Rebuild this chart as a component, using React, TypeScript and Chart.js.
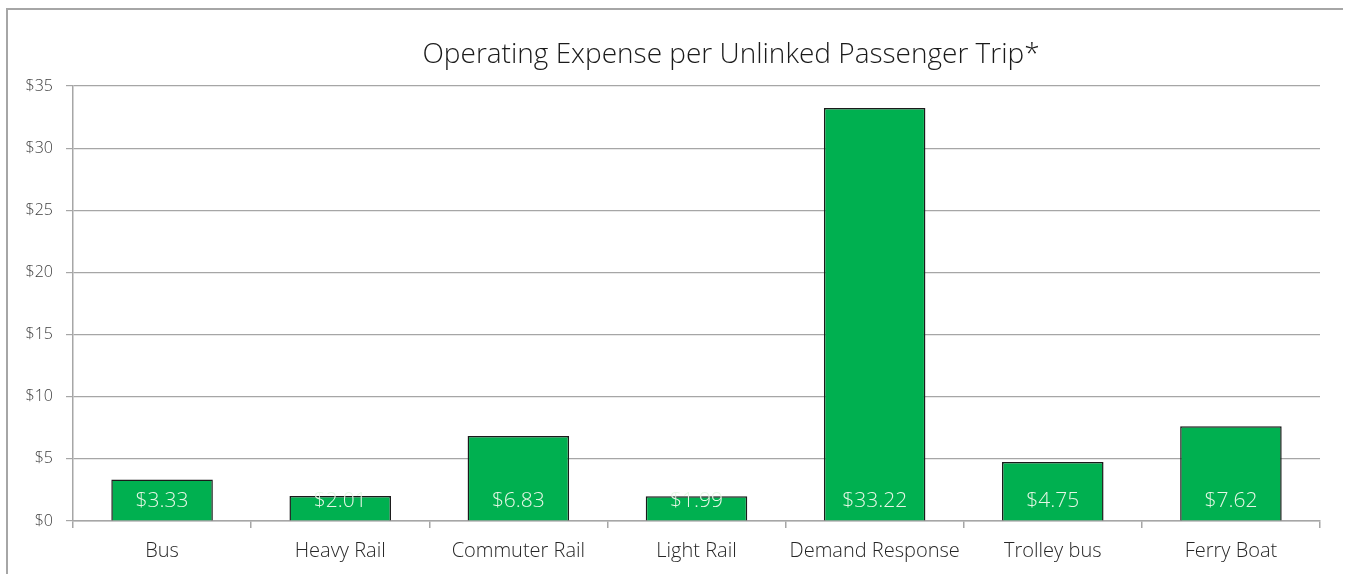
import React, { useEffect, useRef } from "react";
import { Chart, registerables } from "chart.js";

Chart.register(...registerables);

const categories = ["Bus", "Heavy Rail", "Commuter Rail", "Light Rail", "Demand Response", "Trolley bus", "Ferry Boat"];
const expensePerTrip = [3.33, 2.01, 6.83, 1.99, 33.22, 4.75, 7.62];
const yTicks = [0, 5, 10, 15, 20, 25, 30, 35];
const titleText = "Operating Expense per Unlinked Passenger Trip*";

const FONT = "'Open Sans', 'Noto Sans', sans-serif";

const overlayPlugin = {
  id: "overlay",
  beforeDraw(chart: any) {
    const ctx = chart.ctx;
    ctx.save();
    ctx.fillStyle = "#ffffff";
    ctx.fillRect(0, 0, chart.width, chart.height);
    ctx.strokeStyle = "#a6a6a6";
    ctx.lineWidth = 2;
    ctx.beginPath();
    ctx.moveTo(7, chart.height + 5);
    ctx.lineTo(7, 9);
    ctx.lineTo(chart.width - 2, 9);
    ctx.stroke();
    ctx.restore();
  },
  afterDatasetsDraw(chart: any) {
    const ctx = chart.ctx;
    const area = chart.chartArea;
    const meta = chart.getDatasetMeta(0);
    ctx.save();
    ctx.fillStyle = "#e6f7e6";
    ctx.font = `300 21px ${FONT}`;
    ctx.textAlign = "center";
    ctx.textBaseline = "alphabetic";
    meta.data.forEach((bar: any, i: number) => {
      const v = chart.data.datasets[0].data[i] as number;
      ctx.fillText("$" + v.toFixed(2), bar.x, area.bottom - 14);
    });
    ctx.restore();
  },
  afterDraw(chart: any) {
    const ctx = chart.ctx;
    ctx.save();
    ctx.fillStyle = "#1a1a1a";
    ctx.font = `300 28px ${FONT}`;
    ctx.textAlign = "center";
    ctx.textBaseline = "middle";
    ctx.fillText(titleText, 731, 55);
    ctx.restore();
  },
};

export default function App() {
  const ref = useRef<HTMLCanvasElement>(null);
  useEffect(() => {
    if (!ref.current) return;
    const chart = new Chart(ref.current, {
      type: "bar",
      data: {
        labels: categories,
        datasets: [
          {
            data: expensePerTrip,
            backgroundColor: "#00b050",
            borderColor: "#1a1a1a",
            borderWidth: 1.5,
            barPercentage: 0.57,
            categoryPercentage: 1,
          },
        ],
      },
      options: {
        animation: false,
        responsive: false,
        devicePixelRatio: 1,
        layout: { padding: { left: 0, right: 25, top: 86, bottom: 0 } },
        plugins: {
          legend: { display: false },
          title: { display: false },
          tooltip: { enabled: false },
        },
        scales: {
          x: {
            afterFit(scale: any) {
              scale.height = 53;
            },
            grid: {
              offset: true,
              drawOnChartArea: false,
              drawTicks: true,
              tickLength: 7,
              color: "#a6a6a6",
              lineWidth: 1.5,
            },
            border: { color: "#a6a6a6", width: 1.5 },
            ticks: {
              color: "#262626",
              font: { family: FONT, size: 20, weight: "300" as any },
              padding: 11,
              maxRotation: 0,
              autoSkip: false,
            },
          },
          y: {
            min: 0,
            max: 35,
            afterFit(scale: any) {
              scale.width = 73;
            },
            afterBuildTicks(scale: any) {
              scale.ticks = yTicks.map((v) => ({ value: v }));
            },
            grid: {
              color: "#a6a6a6",
              lineWidth: 1.2,
              drawTicks: true,
              tickLength: 7,
            },
            border: { color: "#a6a6a6", width: 1.5 },
            ticks: {
              color: "#404040",
              font: { family: FONT, size: 16, weight: "300" as any },
              padding: 13,
              callback: (v: any) => "$" + v,
            },
          },
        },
      },
      plugins: [overlayPlugin],
    });
    return () => chart.destroy();
  }, []);

  return (
    <div style={{ position: "fixed", left: 0, top: 0, width: 1345, height: 574, overflow: "hidden", background: "#fff" }}>
      <canvas ref={ref} width={1345} height={574} style={{ display: "block", position: "absolute", left: 0, top: 0, width: 1345, height: 574 }} />
    </div>
  );
}
